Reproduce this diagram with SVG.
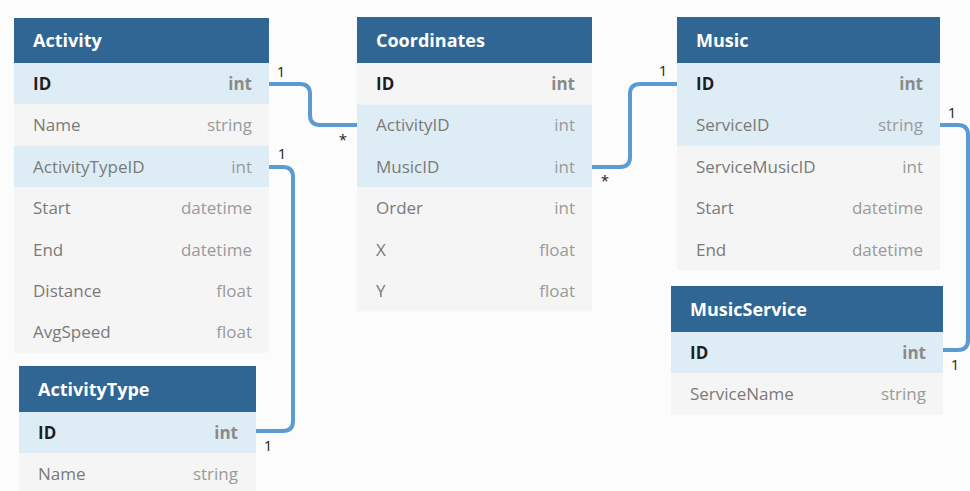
<svg xmlns="http://www.w3.org/2000/svg" width="970" height="491" viewBox="0 0 970 491">
<style>
.hdr{fill:#306693}
.hl{fill:#deedf5}
.rw{fill:#f5f5f5}
.t{font-family:"Open Sans","DejaVu Sans",sans-serif}
.h{font-size:18px;font-weight:bold;fill:#ffffff}
.n{font-size:17px;fill:#7a7a7a}
.k{font-size:17px;font-weight:bold;fill:#1e1e1e}
.ty{font-size:17px;fill:#9a9a9a;text-anchor:end}
.tk{font-size:17px;font-weight:bold;fill:#8a8a8a;text-anchor:end}
.c{fill:none;stroke:#5b9bd1;stroke-width:4}
.m{font-family:"Open Sans","DejaVu Sans",sans-serif;font-size:15px;fill:#222;text-anchor:middle}
</style>
<rect x="0" y="0" width="970" height="491" fill="#fcfcfc"/>

<g id="connectors">
<path class="c" d="M269,84 H300 Q310,84 310,94 V115 Q310,125 320,125 H357"/>
<path class="c" d="M269,167 H283 Q293,167 293,177 V421 Q293,431 283,431 H256"/>
<path class="c" d="M592,167 H620 Q630,167 630,157 V94 Q630,84 640,84 H677"/>
<path class="c" d="M940,125 H958 Q968,125 968,135 V340 Q968,350 958,350 H943"/>
<text class="m" x="281" y="77">1</text>
<text class="m" x="343" y="145">*</text>
<text class="m" x="282" y="159">1</text>
<text class="m" x="268" y="451">1</text>
<text class="m" x="605" y="186">*</text>
<text class="m" x="663" y="76">1</text>
<text class="m" x="952" y="118">1</text>
<text class="m" x="955" y="370">1</text>
</g>

<g id="Activity" class="t">
<rect class="hdr" x="14" y="18" width="255" height="45"/>
<rect class="hl" x="14" y="63" width="255" height="41.4"/>
<rect class="rw" x="14" y="104.4" width="255" height="41.4"/>
<rect class="hl" x="14" y="145.8" width="255" height="41.4"/>
<rect class="rw" x="14" y="187.2" width="255" height="165.6"/>
<text class="h" x="33" y="47">Activity</text>
<text class="k" x="33" y="90">ID</text><text class="tk" x="252" y="90">int</text>
<text class="n" x="33" y="131.4">Name</text><text class="ty" x="252" y="131.4">string</text>
<text class="n" x="33" y="172.8">ActivityTypeID</text><text class="ty" x="252" y="172.8">int</text>
<text class="n" x="33" y="214.2">Start</text><text class="ty" x="252" y="214.2">datetime</text>
<text class="n" x="33" y="255.6">End</text><text class="ty" x="252" y="255.6">datetime</text>
<text class="n" x="33" y="297">Distance</text><text class="ty" x="252" y="297">float</text>
<text class="n" x="33" y="338.4">AvgSpeed</text><text class="ty" x="252" y="338.4">float</text>
</g>

<g id="Coordinates" class="t">
<rect class="hdr" x="357" y="17" width="235" height="46"/>
<rect class="rw" x="357" y="63" width="235" height="41.4"/>
<rect class="hl" x="357" y="104.4" width="235" height="82.8"/>
<rect class="rw" x="357" y="187.2" width="235" height="124.2"/>
<text class="h" x="376" y="47">Coordinates</text>
<text class="k" x="376" y="90">ID</text><text class="tk" x="575" y="90">int</text>
<text class="n" x="376" y="131.4">ActivityID</text><text class="ty" x="575" y="131.4">int</text>
<text class="n" x="376" y="172.8">MusicID</text><text class="ty" x="575" y="172.8">int</text>
<text class="n" x="376" y="214.2">Order</text><text class="ty" x="575" y="214.2">int</text>
<text class="n" x="376" y="255.6">X</text><text class="ty" x="575" y="255.6">float</text>
<text class="n" x="376" y="297">Y</text><text class="ty" x="575" y="297">float</text>
</g>

<g id="Music" class="t">
<rect class="hdr" x="677" y="17" width="263" height="46"/>
<rect class="hl" x="677" y="63" width="263" height="82.8"/>
<rect class="rw" x="677" y="145.8" width="263" height="124.2"/>
<text class="h" x="696" y="47">Music</text>
<text class="k" x="696" y="90">ID</text><text class="tk" x="923" y="90">int</text>
<text class="n" x="696" y="131.4">ServiceID</text><text class="ty" x="923" y="131.4">string</text>
<text class="n" x="696" y="172.8">ServiceMusicID</text><text class="ty" x="923" y="172.8">int</text>
<text class="n" x="696" y="214.2">Start</text><text class="ty" x="923" y="214.2">datetime</text>
<text class="n" x="696" y="255.6">End</text><text class="ty" x="923" y="255.6">datetime</text>
</g>

<g id="MusicService" class="t">
<rect class="hdr" x="671" y="286" width="272" height="46"/>
<rect class="hl" x="671" y="332" width="272" height="41.4"/>
<rect class="rw" x="671" y="373.4" width="272" height="41.4"/>
<text class="h" x="690" y="316">MusicService</text>
<text class="k" x="690" y="359">ID</text><text class="tk" x="926" y="359">int</text>
<text class="n" x="690" y="400.4">ServiceName</text><text class="ty" x="926" y="400.4">string</text>
</g>

<g id="ActivityType" class="t">
<rect class="hdr" x="19" y="366" width="237" height="46"/>
<rect class="hl" x="19" y="412" width="237" height="41.4"/>
<rect class="rw" x="19" y="453.4" width="237" height="41.4"/>
<text class="h" x="38" y="396">ActivityType</text>
<text class="k" x="38" y="439">ID</text><text class="tk" x="238" y="439">int</text>
<text class="n" x="38" y="480.4">Name</text><text class="ty" x="238" y="480.4">string</text>
</g>
</svg>
